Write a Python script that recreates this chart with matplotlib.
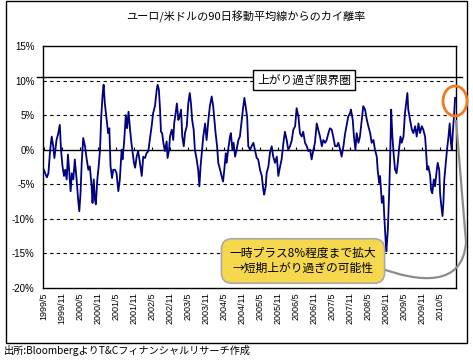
import matplotlib
matplotlib.use("Agg")
import matplotlib.pyplot as plt
from matplotlib.patches import Ellipse, PathPatch, Rectangle
from matplotlib.path import Path
from matplotlib.transforms import IdentityTransform

plt.rcParams['font.family'] = ['Noto Sans CJK JP', 'DejaVu Sans']

# months since 1999/5, deviation from 90-day MA (%)
month_idx = [
    0, 0.5, 1.0, 1.5, 2.0, 2.3, 2.6, 3.1, 3.5, 4.2, 4.8, 5.3, 5.7, 6.2, 6.7, 7.1,
    7.6, 8.0, 8.4, 8.9, 9.3, 9.8, 10.3, 10.9, 11.4, 11.8, 12.2, 12.6, 13.1, 13.7,
    14.2, 14.8, 15.3, 15.9, 16.2, 16.6, 17.0, 17.3, 17.8, 18.2, 18.7, 19.1, 19.6,
    19.9, 20.3, 20.9, 21.4, 21.8, 22.2, 22.7, 23.1, 23.7, 24.2, 24.8, 25.3, 25.9,
    26.2, 26.7, 27.3, 27.7, 28.2, 28.7, 29.1, 29.6, 30.0, 30.4, 30.9, 31.4, 32.0,
    32.6, 33.1, 33.7, 34.2, 34.8, 35.3, 35.9, 36.4, 37.0, 37.6, 37.9, 38.3, 38.7,
    39.0, 39.4, 39.8, 40.3, 40.9, 41.2, 41.7, 42.0, 42.6, 43.1, 43.4, 43.9, 44.3,
    44.8, 45.2, 45.7, 46.1, 46.6, 47.0, 47.6, 48.1, 48.6, 49.0, 49.4, 49.9, 50.3,
    50.9, 51.4, 51.8, 52.2, 52.6, 53.1, 53.7, 54.2, 54.8, 55.3, 55.9, 56.4, 56.8,
    57.2, 57.7, 58.1, 58.7, 59.2, 59.7, 60.1, 60.6, 60.9, 61.4, 62.0, 62.3, 62.8,
    63.2, 63.7, 64.2, 64.8, 65.3, 65.9, 66.3, 66.8, 67.2, 67.7, 68.1, 68.7, 69.2,
    69.8, 70.3, 70.9, 71.4, 72.0, 72.6, 73.1, 73.4, 73.9, 74.2, 74.8, 75.3, 75.9,
    76.4, 77.0, 77.6, 78.1, 78.7, 79.2, 79.8, 80.3, 80.9, 81.4, 82.0, 82.6, 83.1,
    83.7, 84.2, 84.8, 85.3, 85.9, 86.4, 87.0, 87.6, 88.1, 88.7, 89.2, 89.8, 90.3,
    90.9, 91.4, 92.0, 92.6, 93.1, 93.7, 94.2, 94.8, 95.3, 95.9, 96.4, 97.0, 97.6,
    98.1, 98.7, 99.2, 99.8, 100.3, 100.9, 101.4, 102.0, 102.3, 102.9, 103.3, 103.8,
    104.2, 104.8, 105.3, 105.9, 106.4, 107.0, 107.6, 108.1, 108.7, 109.2, 109.8,
    110.3, 110.9, 111.2, 111.7, 112.0, 112.6, 113.1, 113.4, 113.9, 114.1, 114.6,
    114.8, 115.1, 115.4, 115.7, 116.1, 116.6, 117.0, 117.5, 117.9, 118.3, 118.8,
    119.2, 119.8, 120.3, 120.7, 121.1, 121.4, 122.0, 122.6, 123.1, 123.7, 124.2,
    124.8, 125.3, 125.9, 126.4, 127.0, 127.3, 127.7, 128.1, 128.7, 129.0, 129.4,
    129.9, 130.3, 130.9, 131.2, 131.7, 132.0, 132.3, 132.8, 133.1, 133.4, 133.9,
    134.3, 134.8, 135.2, 135.6, 135.9, 136.3, 136.7, 137.0,
]
deviation = [
    -2.9, -3.5, -4.0, -3.4, -0.5, 0.8, 1.9, 0.5, -1.2, 1.4, 2.4, 3.6, 0.0, -2.4, -3.8, -2.9,
    -4.3, -0.7, -2.9, -6.0, -3.4, -4.3, -1.4, -4.3, -7.2, -8.9, -6.3, -1.9, 1.7, 0.5,
    -1.2, -2.9, -2.4, -5.3, -7.7, -4.3, -7.2, -7.9, -4.3, -2.6, 0.0, 4.8, 8.2,
    9.4, 6.7, 4.3, 2.4, 3.1, -2.4, -4.1, -2.9, -2.9, -3.4, -6.0, -4.3, 0.0,
    -1.4, 1.0, 5.0, 3.1, 5.5, 2.9, 1.2, -0.5, -1.9, -2.6, -1.0, -0.2, -1.9,
    -3.8, -1.0, -1.2, -0.5, -0.2, 1.5, 3.4, 5.3, 6.3, 8.7, 9.4, 8.7, 5.8,
    2.6, 2.4, 1.0, -0.2, 1.2, -1.2, 0.0, 1.9, 2.9, 1.4, 3.8, 5.3, 6.7,
    4.3, 4.8, 5.8, 1.9, 0.5, 2.4, 3.4, 6.7, 8.2, 6.7, 4.3, 2.9, 0.0,
    -1.4, -2.9, -5.3, -2.4, -0.5, 1.9, 3.8, 1.4, 4.3, 6.3, 7.7, 6.3, 4.3,
    2.4, 0.5, -1.9, -2.9, -3.8, -4.6, -2.9, -0.5, -1.9, 0.0, 1.9, 2.4, 0.0,
    1.0, -1.0, 0.0, 1.4, 1.9, 4.3, 5.8, 7.5, 6.3, 4.8, 0.5, 0.0, 0.5,
    1.0, 0.0, -1.2, -1.4, -2.9, -3.8, -5.8, -6.5, -5.3, -3.4, -2.4, -0.5, 0.5,
    -1.0, -1.9, -1.0, -3.8, -2.4, -1.4, 1.0, 2.6, 1.4, 0.0, 0.5, 1.4, 2.9,
    3.4, 6.0, 4.8, 2.4, 1.9, 2.6, 1.0, 0.5, -0.2, 0.0, -1.4, 0.0, 1.0,
    3.8, 2.9, 1.9, 0.5, 1.4, 1.0, 1.4, 2.4, 3.1, 2.9, 1.9, 0.5, 0.5,
    1.0, 0.0, -1.0, 0.5, 2.2, 3.6, 4.8, 5.3, 5.8, 4.3, 1.9, 0.0,
    2.4, 1.0, 1.9, 4.3, 6.3, 5.8, 4.3, 3.4, 2.4, 1.0, 1.4,
    0.0, -1.0, -2.9, -4.8, -3.8, -7.7, -6.7, -9.6, -13.5, -14.7, -11.5,
    -9.1, -5.3, -0.5, 5.8, 1.9, -1.0, -2.9, -3.4, -1.9, 0.0, 1.9,
    1.0, 1.9, 5.3, 6.7, 8.2, 5.8, 4.3, 2.9, 2.4, 3.4, 1.9,
    3.8, 2.4, 3.4, 2.9, 1.9, 0.0, -2.9, -2.4, -3.8, -5.8, -6.3,
    -4.3, -5.3, -2.9, -1.9, -2.9, -6.3, -7.7, -9.6, -7.7, -4.3, -1.9,
    0.0, 1.9, 3.8, 1.0, 0.0, 2.9, 5.3, 7.5,
]

tick_months = list(range(0, 133, 6))
tick_labels = []
for i in tick_months:
    y = 1999 + (4 + i) // 12
    mo = (4 + i) % 12 + 1
    tick_labels.append(f"{y}/{mo}")

y_ticks = [15, 10, 5, 0, -5, -10, -15, -20]
y_labels = ["15%", "10%", "5%", "0%", "-5%", "-10%", "-15%", "-20%"]
dashed_levels = [10, 5, -5, -10, -15]
limit_level = 10.5

W, H = 473, 362
fig = plt.figure(figsize=(W / 100, H / 100), dpi=100)
ax = fig.add_axes([43 / W, (H - 288) / H, 413 / W, 242 / H])

for lv in dashed_levels:
    ax.axhline(lv, color="black", lw=0.8, ls=(0, (3, 3)), zorder=1)
ax.axhline(0, color="black", lw=1.0, zorder=1)
ax.vlines(tick_months, 0, 0.45, color="black", lw=0.8, zorder=1)
ax.axhline(limit_level, xmin=-0.015, xmax=1.015, color="black", lw=1.0,
           clip_on=False, zorder=1)

ax.plot(month_idx, deviation, color="#000080", lw=1.3, zorder=3)

ax.set_xlim(-0.3, 137.3)
ax.set_ylim(-20, 15)
ax.set_yticks(y_ticks)
ax.set_yticklabels(y_labels, fontsize=7, family="Liberation Sans")
ax.set_xticks(tick_months)
ax.set_xticklabels(tick_labels, rotation=90, fontsize=6.5, family="Liberation Sans")
ax.tick_params(axis="y", length=0, pad=6)
ax.tick_params(axis="x", length=0, pad=3)
for s in ax.spines.values():
    s.set_color("black")
    s.set_linewidth(1.0)

ident = IdentityTransform()

def px(x, y):
    return x, H - y

# outer frame
fig.add_artist(Rectangle(px(6, 343), 461, 342, fill=False, ec="black", lw=1.0,
                         transform=ident))

fig.text(246 / W, 1 - 17 / H, "ユーロ/米ドルの90日移動平均線からのカイ離率",
         ha="center", va="center", fontsize=8)

fig.text(304 / W, 1 - 80 / H, "上がり過ぎ限界圏", ha="center", va="center",
         fontsize=8.5, bbox=dict(boxstyle="square,pad=0.3", fc="white", ec="black", lw=1.0))

# connector from callout to the circled spike
verts = [px(380, 268), px(418, 282), px(463, 288), px(466, 242), px(456, 120)]
codes = [Path.MOVETO, Path.CURVE4, Path.CURVE4, Path.CURVE4, Path.LINETO]
fig.add_artist(PathPatch(Path(verts, codes), fill=False, ec="#8C8C8C", lw=1.6,
                         transform=ident))

fig.text(303 / W, 1 - 261 / H, "一時プラス8%程度まで拡大\n→短期上がり過ぎの可能性",
         ha="center", va="center", fontsize=8.5, linespacing=1.2,
         bbox=dict(boxstyle="round,pad=0.7,rounding_size=0.9", fc="#F6D84E",
                   ec="#A8A8A8", lw=1.2))

fig.add_artist(Ellipse(px(455, 101), 24, 30, fill=False, ec="#F07A1E", lw=2.0,
                       transform=ident))

fig.text(4 / W, 1 - 351 / H, "出所:BloombergよりT&Cフィナンシャルリサーチ作成",
         ha="left", va="center", fontsize=7.3)

fig.savefig("out.png", dpi=100)
plt.close(fig)
